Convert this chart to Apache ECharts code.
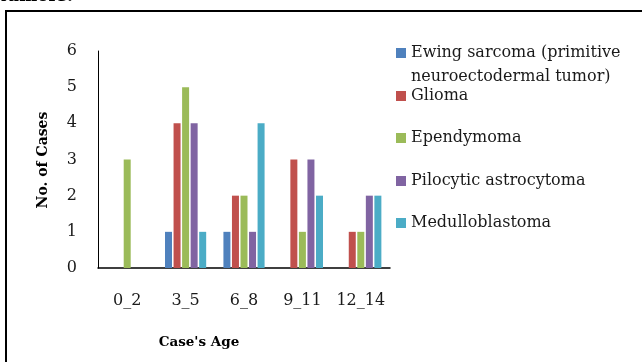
<!DOCTYPE html>
<html>
<head>
<meta charset="utf-8">
<script src="https://cdn.jsdelivr.net/npm/echarts@6/dist/echarts.min.js"></script>
<style>html,body{margin:0;padding:0;background:#fff;}#c{width:642px;height:362px;}</style>
</head>
<body>
<div id="c"></div>
<script>
var categories = ['0_2', '3_5', '6_8', '9_11', '12_14'];
var seriesNames = ['Ewing sarcoma (primitive\nneuroectodermal tumor)', 'Glioma', 'Ependymoma', 'Pilocytic astrocytoma', 'Medulloblastoma'];
var ewing = [0, 1, 1, 0, 0];
var glioma = [0, 4, 2, 3, 1];
var ependymoma = [3, 5, 2, 1, 1];
var pilocytic = [0, 4, 1, 3, 2];
var medullo = [0, 1, 4, 2, 2];
var yTicks = [0, 1, 2, 3, 4, 5, 6];
var colors = ['#4F81BD', '#C0504D', '#9BBB59', '#8064A2', '#4BACC6'];
var values = [ewing, glioma, ependymoma, pilocytic, medullo];

var FONT = 'DejaVu Serif';
var chart = echarts.init(document.getElementById('c'));
var legendCenters = [53, 96, 138, 181, 223];
var legends = seriesNames.map(function (n, i) {
  var lg = {
    orient: 'vertical', left: 396, top: legendCenters[i] - 10, padding: 0,
    itemWidth: 10, itemHeight: 10, icon: 'rect', selectedMode: false,
    data: [n],
    textStyle: {fontFamily: FONT, fontSize: 16, color: '#1a1a1a', lineHeight: 20}
  };
  if (i === 0) {
    lg.textStyle.lineHeight = 24;
    lg.formatter = function (name) { return ' \n' + name; };
    lg.top = legendCenters[0] - 36;
  }
  return lg;
});

chart.setOption({
  animation: false,
  color: colors,
  grid: {left: 98, right: 252, top: 51, bottom: 94},
  legend: legends,
  xAxis: {
    type: 'category', data: categories,
    axisLine: {lineStyle: {color: '#000', width: 1.5}},
    axisTick: {show: false},
    axisLabel: {fontFamily: FONT, fontSize: 16, color: '#1a1a1a', margin: 25, interval: 0, hideOverlap: false}
  },
  yAxis: {
    type: 'value', min: yTicks[0], max: yTicks[yTicks.length - 1], interval: 1,
    splitLine: {show: false},
    axisLine: {show: true, lineStyle: {color: '#000', width: 1}},
    axisTick: {show: false},
    axisLabel: {fontFamily: FONT, fontSize: 16, color: '#1a1a1a', margin: 21}
  },
  graphic: [
    {type: 'rect', shape: {x: 5, y: 10, width: 2, height: 360}, style: {fill: '#000'}},
    {type: 'rect', shape: {x: 5, y: 10, width: 650, height: 2}, style: {fill: '#000'}},
    {type: 'text', x: -1, y: 5, style: {text: 'tumors.', font: 'bold 17px "DejaVu Serif"', fill: '#000', verticalAlign: 'bottom'}},
    {type: 'text', x: 43, y: 160, rotation: Math.PI / 2, style: {text: 'No. of Cases', font: 'bold 14px "DejaVu Serif"', fill: '#000', align: 'center', verticalAlign: 'middle'}},
    {type: 'text', x: 199, y: 342, style: {text: "Case's Age", font: 'bold 13.5px "DejaVu Serif"', fill: '#000', align: 'center', verticalAlign: 'middle'}}
  ],
  series: seriesNames.map(function (n, i) {
    return {name: n, type: 'bar', data: values[i], barWidth: 7, barGap: '22%'};
  })
});
</script>
</body>
</html>
